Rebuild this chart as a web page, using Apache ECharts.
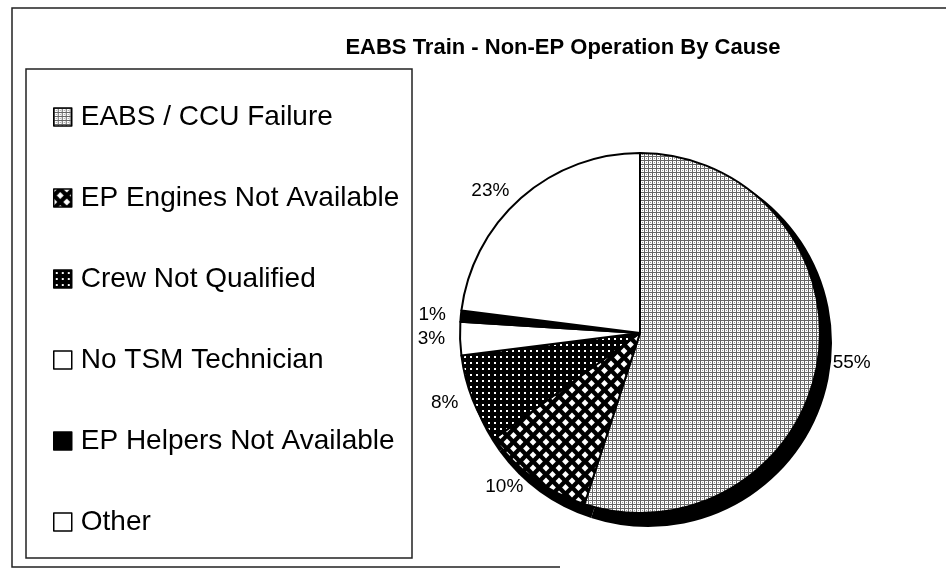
<!DOCTYPE html>
<html>
<head>
<meta charset="utf-8">
<script src="https://cdn.jsdelivr.net/npm/echarts@6/dist/echarts.min.js"></script>
<style>
  html, body { margin: 0; padding: 0; background: #fff; }
  #chart { width: 946px; height: 571px; }
</style>
</head>
<body>
<div id="chart"></div>
<script>
// categories and shares (percent)
const causes = [
  'EABS / CCU Failure',
  'EP Engines Not Available',
  'Crew Not Qualified',
  'No TSM Technician',
  'EP Helpers Not Available',
  'Other'
];
const shares = [55, 10, 8, 3, 1, 23];

// small tiles used as fill patterns (scanned b/w look)
function makeTile(size, draw) {
  const c = document.createElement('canvas');
  c.width = size;
  c.height = size;
  draw(c.getContext('2d'), size);
  return { image: c, repeat: 'repeat' };
}

const greyGrid = makeTile(4, (g, s) => {
  g.fillStyle = '#fff';
  g.fillRect(0, 0, s, s);
  g.fillStyle = '#666';
  g.fillRect(0, 0, 1, s);
  g.fillRect(0, 0, s, 1);
  g.fillStyle = '#999';
  g.fillRect(2, 2, 1, 1);
});

const diamonds = makeTile(13, (g, s) => {
  g.fillStyle = '#000';
  g.fillRect(0, 0, s, s);
  g.fillStyle = '#fff';
  const d = 3.4;
  const pts = [[s / 2, s / 2], [0, 0], [s, 0], [0, s], [s, s]];
  pts.forEach(([x, y]) => {
    g.beginPath();
    g.moveTo(x, y - d);
    g.lineTo(x + d, y);
    g.lineTo(x, y + d);
    g.lineTo(x - d, y);
    g.closePath();
    g.fill();
  });
});

const darkDots = makeTile(6, (g, s) => {
  g.fillStyle = '#000';
  g.fillRect(0, 0, s, s);
  g.fillStyle = '#fff';
  g.fillRect(2, 2, 2, 2);
});

const fills = [greyGrid, diamonds, darkDots, '#fff', '#000', '#fff'];

const chart = echarts.init(document.getElementById('chart'));

const option = {
  backgroundColor: '#fff',
  animation: false,
  title: {
    text: 'EABS Train - Non-EP Operation By Cause',
    left: 558,
    top: 32,
    textAlign: 'center',
    textStyle: {
      fontFamily: 'Liberation Sans, Arial, sans-serif',
      fontSize: 22,
      fontWeight: 'bold',
      color: '#000'
    }
  },
  graphic: [
    // outer frame of the scanned chart
    { type: 'polyline', shape: { points: [[946, 8], [12, 8], [12, 567], [560, 567]] },
      style: { stroke: '#222', lineWidth: 1.5, fill: null }, silent: true },
    // legend box
    { type: 'rect', shape: { x: 26, y: 69, width: 386, height: 489 },
      style: { stroke: '#222', lineWidth: 1.5, fill: null }, silent: true }
  ],
  legend: {
    orient: 'vertical',
    left: 48,
    top: 98,
    itemGap: 53,
    itemWidth: 18,
    itemHeight: 18,
    icon: 'rect',
    data: causes,
    itemStyle: { borderColor: '#000', borderWidth: 1.5 },
    textStyle: {
      fontFamily: 'Liberation Sans, Arial, sans-serif',
      fontSize: 28,
      lineHeight: 28,
      color: '#000',
      padding: [0, 0, 0, 4]
    }
  },
  series: [
    {
      name: 'Cause',
      type: 'pie',
      z: 3,
      center: [640, 333],
      radius: 180,
      startAngle: 90,
      clockwise: true,
      avoidLabelOverlap: true,
      itemStyle: { borderColor: '#000', borderWidth: 2 },
      emphasis: { disabled: true },
      label: {
        show: true,
        position: 'outside',
        formatter: p => p.value + '%',
        fontFamily: 'Liberation Sans, Arial, sans-serif',
        fontSize: 19,
        color: '#000'
      },
      labelLine: { show: false, length: 10, length2: 0 },
      data: causes.map((name, i) => ({
        name: name,
        value: shares[i],
        itemStyle: { color: fills[i] }
      }))
    },
    {
      // black drop edge seen on the right and bottom of the pie
      name: 'edge',
      type: 'pie',
      z: 2,
      silent: true,
      center: [648, 343],
      radius: 184,
      startAngle: 90,
      label: { show: false },
      labelLine: { show: false },
      itemStyle: { color: '#000', borderWidth: 0 },
      emphasis: { disabled: true },
      data: causes.map((name, i) => ({ name: name, value: shares[i] }))
    }
  ]
};

chart.setOption(option);
</script>
</body>
</html>
